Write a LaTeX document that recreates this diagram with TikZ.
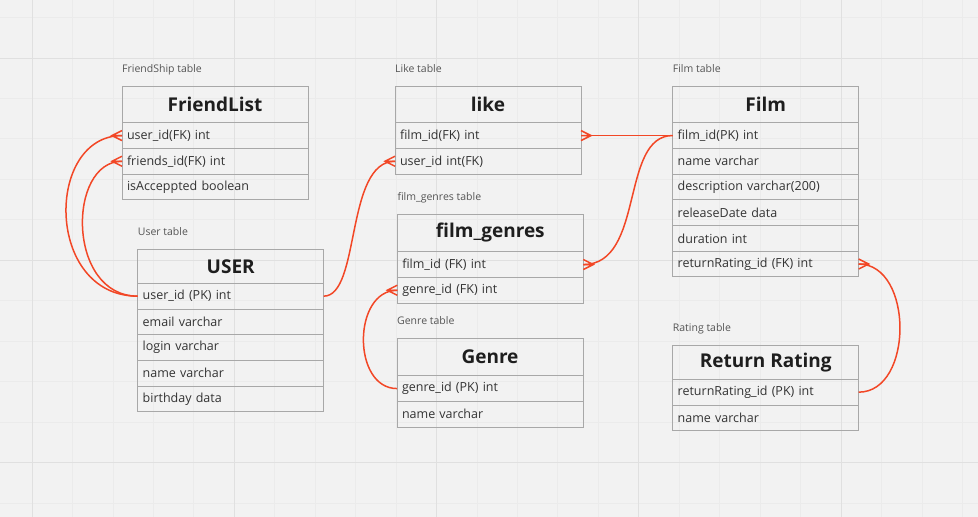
\documentclass[tikz,border=0pt]{standalone}
\usepackage{fontspec}
\setmainfont{Open Sans}
\usetikzlibrary{positioning}

\definecolor{bgcol}{RGB}{242,242,242}
\definecolor{gridminor}{RGB}{235,235,235}
\definecolor{gridmajor}{RGB}{224,224,224}
\definecolor{boxgray}{RGB}{168,168,168}
\definecolor{relred}{RGB}{242,71,38}
\definecolor{labelgray}{RGB}{85,85,85}
\definecolor{fieldcol}{RGB}{51,51,51}
\definecolor{titlecol}{RGB}{30,30,30}

\tikzset{
  tabhead/.style={draw=boxgray, line width=1pt, outer sep=0pt, inner sep=0pt,
    minimum width=186pt, minimum height=#1, text=titlecol,
    font=\fontsize{19}{22}\selectfont\bfseries},
  tabhead/.default=36.7pt,
  tabrow/.style={draw=boxgray, line width=1pt, outer sep=0pt, inner ysep=0pt,
    inner xsep=5pt, text width=176pt, align=left, minimum height=25.7pt,
    text=fieldcol, font=\fontsize{12.5}{14}\selectfont},
  tablabel/.style={inner sep=0pt, text=labelgray, font=\fontsize{10.5}{12}\selectfont},
  rel/.style={draw=relred, line width=1.5pt},
  crowfoot/.pic={\draw[rel] (0,0) -- (-10,0) (0,5) -- (-10,0) -- (0,-5);}
}

\begin{document}
\begin{tikzpicture}[x=1pt, y=-1pt]
    \useasboundingbox (0,0) rectangle (978,517);
    \fill[bgcol] (0,0) rectangle (978,517);
    % grid
    \foreach \k in {0,...,23}
        \draw[gridminor, line width=0.8pt] ({32+40.45*\k},0) -- ++(0,517);
    \foreach \k in {0,...,12}
        \draw[gridminor, line width=0.8pt] (0,{17.5+40.45*\k}) -- ++(978,0);
    \foreach \k in {0,5,...,20}
        \draw[gridmajor, line width=0.8pt] ({32+40.45*\k},0) -- ++(0,517);
    \foreach \k in {1,6,11}
        \draw[gridmajor, line width=0.8pt] (0,{17.5+40.45*\k}) -- ++(978,0);

    % FriendShip table
    \node (friendlist) [tabhead, anchor=north west] at (122,86) {FriendList};
    \node (fl-user) [tabrow, below=0pt of friendlist] {user\_id(FK) int};
    \node (fl-friends) [tabrow, below=0pt of fl-user] {friends\_id(FK) int};
    \node (fl-accepted) [tabrow, below=0pt of fl-friends] {isAcceppted boolean};
    \node [tablabel, above right=14pt and 0pt of friendlist.north west, anchor=base west] {FriendShip table};

    % User table
    \node (user) [tabhead=34pt, anchor=north west] at (137.7,249.3) {USER};
    \node (user-id) [tabrow, below=0pt of user] {user\_id (PK) int};
    \node (user-email) [tabrow, below=0pt of user-id] {email varchar};
    \node (user-login) [tabrow, below=0pt of user-email] {login varchar};
    \node (user-name) [tabrow, below=0pt of user-login] {name varchar};
    \node (user-birthday) [tabrow, below=0pt of user-name] {birthday data};
    \node [tablabel, above right=14pt and 0pt of user.north west, anchor=base west] {User table};

    % Like table
    \node (like) [tabhead, anchor=north west] at (395,86) {like};
    \node (like-film) [tabrow, below=0pt of like] {film\_id(FK) int};
    \node (like-user) [tabrow, below=0pt of like-film] {user\_id int(FK)};
    \node [tablabel, above right=14pt and 0pt of like.north west, anchor=base west] {Like table};

    % film_genres table
    \node (filmgenres) [tabhead=37.4pt, anchor=north west] at (397.3,214.3) {film\_genres};
    \node (fg-film) [tabrow, below=0pt of filmgenres] {film\_id (FK) int};
    \node (fg-genre) [tabrow, below=0pt of fg-film] {genre\_id (FK) int};
    \node [tablabel, above right=14pt and 0pt of filmgenres.north west, anchor=base west] {film\_genres table};

    % Genre table
    \node (genre) [tabhead=37pt, anchor=north west] at (397,338.7) {Genre};
    \node (genre-id) [tabrow, below=0pt of genre] {genre\_id (PK) int};
    \node (genre-name) [tabrow, below=0pt of genre-id] {name varchar};
    \node [tablabel, above right=14pt and 0pt of genre.north west, anchor=base west] {Genre table};

    % Film table
    \node (film) [tabhead, anchor=north west] at (672.7,86) {Film};
    \node (film-id) [tabrow, below=0pt of film] {film\_id(PK) int};
    \node (film-name) [tabrow, below=0pt of film-id] {name varchar};
    \node (film-desc) [tabrow, below=0pt of film-name] {description varchar(200)};
    \node (film-date) [tabrow, below=0pt of film-desc] {releaseDate data};
    \node (film-duration) [tabrow, below=0pt of film-date] {duration int};
    \node (film-rr) [tabrow, below=0pt of film-duration] {returnRating\_id (FK) int};
    \node [tablabel, above right=14pt and 0pt of film.north west, anchor=base west] {Film table};

    % Rating table
    \node (rating) [tabhead=33.6pt, anchor=north west] at (672.7,345.7) {Return Rating};
    \node (rr-id) [tabrow, below=0pt of rating] {returnRating\_id (PK) int};
    \node (rr-name) [tabrow, below=0pt of rr-id] {name varchar};
    \node [tablabel, above right=14pt and 0pt of rating.north west, anchor=base west] {Rating table};

    % relations
    \draw[rel] (user-id.west) .. controls +(-93,0) and +(-77,0) .. (fl-user.west);
    \draw[rel] (user-id.west) .. controls +(-71,0) and +(-55,0) .. (fl-friends.west);
    \draw[rel] (user-id.east) .. controls +(37,0) and +(-50,0) .. (like-user.west);
    \draw[rel] (film-id.west) -- (like-film.east);
    \draw[rel] (film-id.west) .. controls +(-53,0) and +(62,0) .. (fg-film.east);
    \draw[rel] (genre-id.west) .. controls +(-45,0) and +(-45,0) .. (fg-genre.west);
    \draw[rel] (rr-id.east) .. controls +(55,0) and +(55,0) .. (film-rr.east);

    \pic at (fl-user.west) {crowfoot};
    \pic at (fl-friends.west) {crowfoot};
    \pic at (like-user.west) {crowfoot};
    \pic at (fg-genre.west) {crowfoot};
    \pic[rotate=180] at (like-film.east) {crowfoot};
    \pic[rotate=180] at (fg-film.east) {crowfoot};
    \pic[rotate=180] at (film-rr.east) {crowfoot};
\end{tikzpicture}
\end{document}
